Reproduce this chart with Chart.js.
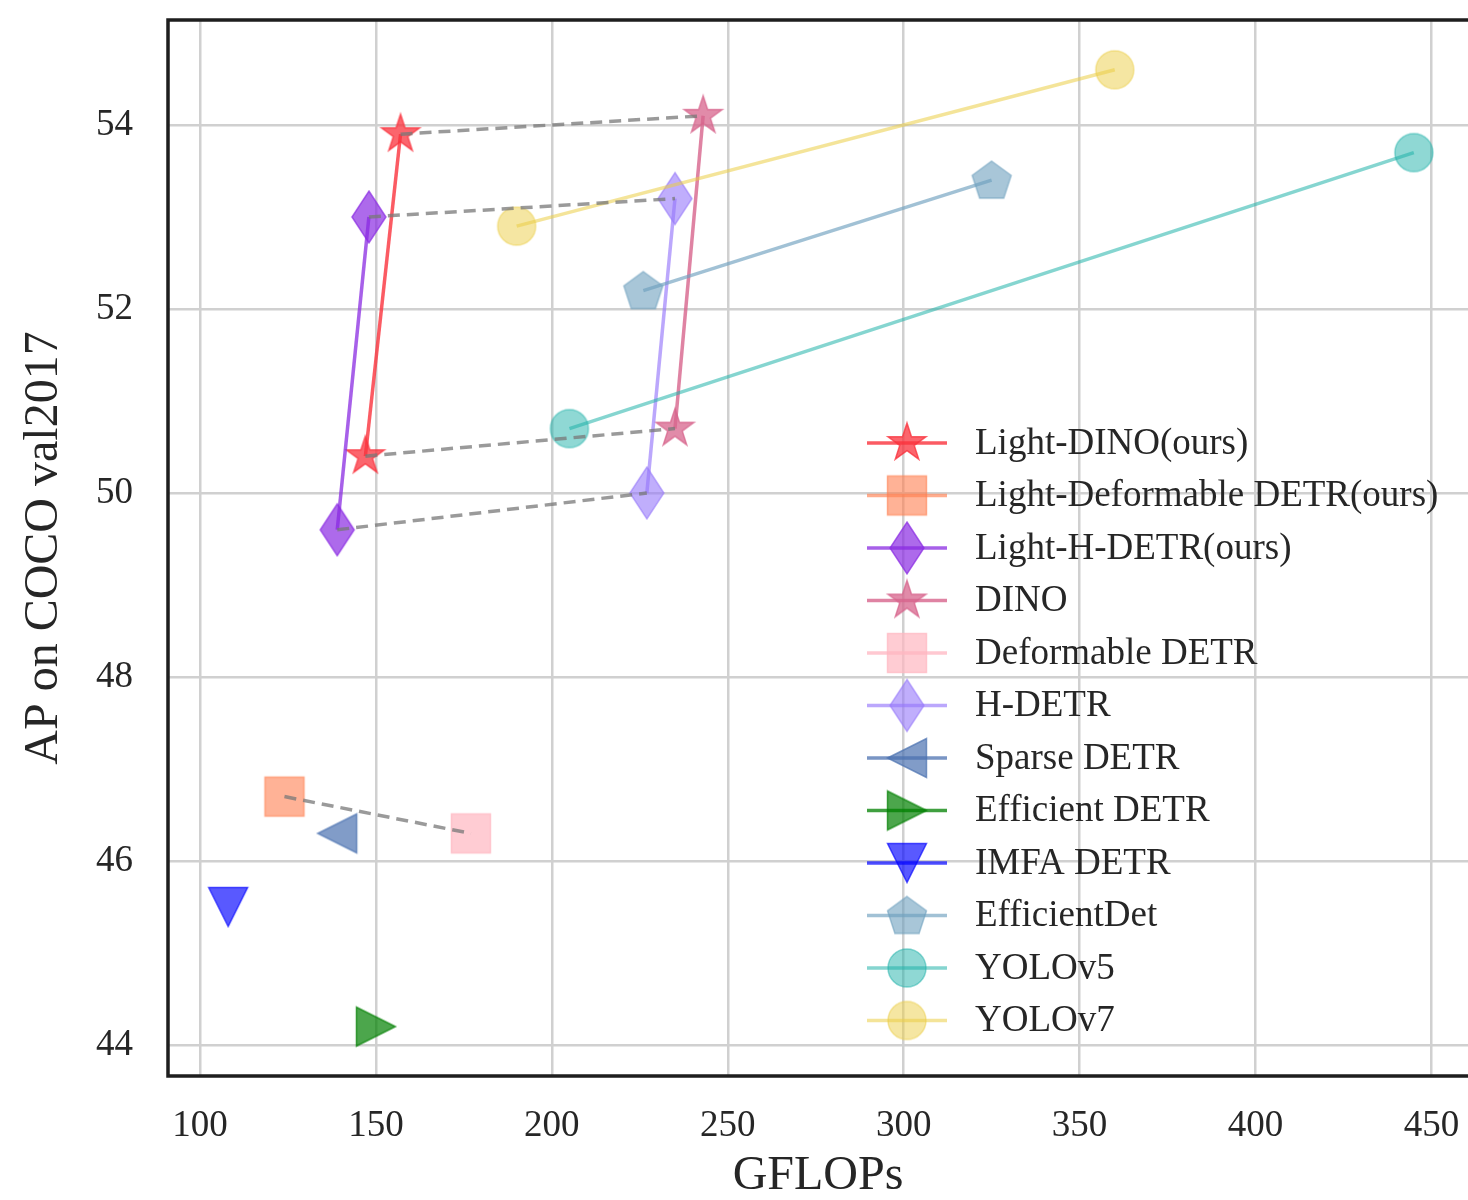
<!DOCTYPE html>
<html><head><meta charset="utf-8">
<script src="https://cdn.jsdelivr.net/npm/chart.js@4"></script>
<style>html,body{margin:0;padding:0;background:#fff}#wrap{width:1468px;height:1200px;position:relative}</style>
</head><body><div id="wrap"><canvas id="c" width="1468" height="1200"></canvas></div>
<script>
// ---- data ----
const xTicks = [100, 150, 200, 250, 300, 350, 400, 450];
const yTicks = [44, 46, 48, 50, 52, 54];
const xTitle = 'GFLOPs';
const yTitle = 'AP on COCO val2017';

const seriesNames = ['Light-DINO(ours)', 'Light-Deformable DETR(ours)', 'Light-H-DETR(ours)', 'DINO',
  'Deformable DETR', 'H-DETR', 'Sparse DETR', 'Efficient DETR', 'IMFA DETR', 'EfficientDet', 'YOLOv5', 'YOLOv7'];

const lightDinoGflops = [147, 157];
const lightDinoAP = [50.4, 53.9];
const lightDeformGflops = [124];
const lightDeformAP = [46.7];
const lightHdetrGflops = [139, 148];
const lightHdetrAP = [49.6, 53.0];
const dinoGflops = [235, 243];
const dinoAP = [50.7, 54.1];
const deformGflops = [177];
const deformAP = [46.3];
const hdetrGflops = [227, 235];
const hdetrAP = [50.0, 53.2];
const sparseGflops = [139];
const sparseAP = [46.3];
const effDetrGflops = [150];
const effDetrAP = [44.2];
const imfaGflops = [108];
const imfaAP = [45.5];
const effDetGflops = [226, 325];
const effDetAP = [52.2, 53.4];
const yolo5Gflops = [205, 445];
const yolo5AP = [50.7, 53.7];
const yolo7Gflops = [190, 360];
const yolo7AP = [52.9, 54.6];

// ---- styles ----
const FONT = "'Liberation Serif', 'DejaVu Serif', serif";
const TEXT = '#262626';

function rgba(c, a) { return 'rgba(' + c.join(',') + ',' + a + ')'; }

function marker(shape, col, alpha) {
  const S = 64, m = S / 2;
  const cv = document.createElement('canvas');
  cv.width = S; cv.height = S;
  const g = cv.getContext('2d');
  g.beginPath();
  const poly = pts => { g.moveTo(m + pts[0][0], m + pts[0][1]); for (let i = 1; i < pts.length; i++) g.lineTo(m + pts[i][0], m + pts[i][1]); g.closePath(); };
  const h = 19.5;
  if (shape === 'star') {
    const R = 20, r = R * 0.381966, pts = [];
    for (let k = 0; k < 10; k++) { const a = -Math.PI / 2 + k * Math.PI / 5, rr = k % 2 ? r : R; pts.push([rr * Math.cos(a), rr * Math.sin(a)]); }
    poly(pts);
  } else if (shape === 'square') {
    poly([[-h, -h], [h, -h], [h, h], [-h, h]]);
  } else if (shape === 'diamond') {
    poly([[0, -26], [17, 0], [0, 26], [-17, 0]]);
  } else if (shape === 'tleft') {
    poly([[-h, 0], [h, -h], [h, h]]);
  } else if (shape === 'tright') {
    poly([[h, 0], [-h, -h], [-h, h]]);
  } else if (shape === 'tdown') {
    poly([[0, h], [-h, -h], [h, -h]]);
  } else if (shape === 'pentagon') {
    const R = 20.5, pts = [];
    for (let k = 0; k < 5; k++) { const a = -Math.PI / 2 + k * 2 * Math.PI / 5; pts.push([R * Math.cos(a), R * Math.sin(a) + 1.5]); }
    poly(pts);
  } else {
    g.arc(m, m, 19, 0, Math.PI * 2);
  }
  g.fillStyle = rgba(col, alpha);
  g.fill();
  g.lineWidth = 1.5;
  g.strokeStyle = rgba(col, alpha);
  g.stroke();
  return cv;
}

const seriesX = [lightDinoGflops, lightDeformGflops, lightHdetrGflops, dinoGflops, deformGflops, hdetrGflops,
  sparseGflops, effDetrGflops, imfaGflops, effDetGflops, yolo5Gflops, yolo7Gflops];
const seriesY = [lightDinoAP, lightDeformAP, lightHdetrAP, dinoAP, deformAP, hdetrAP,
  sparseAP, effDetrAP, imfaAP, effDetAP, yolo5AP, yolo7AP];
const seriesShape = ['star', 'square', 'diamond', 'star', 'square', 'diamond', 'tleft', 'tright', 'tdown', 'pentagon', 'circle', 'circle'];
const seriesColor = [[250, 50, 60], [255, 127, 80], [138, 43, 226], [215, 100, 140], [255, 182, 193], [150, 120, 250],
  [76, 114, 176], [0, 128, 0], [0, 0, 255], [110, 160, 190], [32, 178, 170], [235, 205, 70]];
const seriesAlpha = [0.75, 0.6, 0.7, 0.75, 0.7, 0.6, 0.7, 0.7, 0.65, 0.6, 0.5, 0.5];

const markers = seriesShape.map((s, i) => marker(s, seriesColor[i], seriesAlpha[i]));

const datasets = [];
seriesNames.forEach((name, i) => {
  datasets.push({
    label: name,
    data: seriesX[i].map((x, j) => ({ x: x, y: seriesY[i][j] })),
    showLine: true,
    borderColor: rgba(seriesColor[i], Math.min(1, seriesAlpha[i] + 0.05)),
    borderWidth: 3.5,
    pointStyle: markers[i],
    pointRadius: 19,
    pointHoverRadius: 19,
    order: 100 - i
  });
});

// dashed links between light versions and originals
const links = [
  [lightDinoGflops, lightDinoAP, dinoGflops, dinoAP],
  [lightHdetrGflops, lightHdetrAP, hdetrGflops, hdetrAP],
  [lightDeformGflops, lightDeformAP, deformGflops, deformAP]
];
links.forEach(([ax, ay, bx, by]) => {
  ax.forEach((x, j) => {
    datasets.push({
      label: '_link',
      data: [{ x: x, y: ay[j] }, { x: bx[j], y: by[j] }],
      showLine: true,
      borderColor: 'rgba(120,120,120,0.75)',
      borderWidth: 3.5,
      borderDash: [12, 7],
      pointRadius: 0,
      pointHoverRadius: 0,
      order: 0
    });
  });
});

const framePlugin = {
  id: 'frame',
  beforeDatasetsDraw(chart) {
    const { ctx, chartArea: a } = chart;
    ctx.save();
    ctx.strokeStyle = '#1e1e1e';
    ctx.lineWidth = 3.5;
    ctx.beginPath();
    ctx.moveTo(a.right + 5, a.top);
    ctx.lineTo(a.left, a.top);
    ctx.lineTo(a.left, a.bottom);
    ctx.lineTo(a.right + 5, a.bottom);
    ctx.stroke();
    ctx.restore();
  },
  afterDatasetsDraw(chart) {
    const { ctx, chartArea: a } = chart;
    const x0 = a.left + 699, x1 = a.left + 779, xm = a.left + 739, xt = a.left + 807;
    const y0 = a.top + 423, step = 52.5;
    ctx.save();
    ctx.font = '37px ' + FONT;
    ctx.textBaseline = 'middle';
    ctx.textAlign = 'left';
    seriesNames.forEach((name, i) => {
      const y = y0 + i * step;
      ctx.strokeStyle = rgba(seriesColor[i], Math.min(1, seriesAlpha[i] + 0.05));
      ctx.lineWidth = 3.5;
      ctx.beginPath(); ctx.moveTo(x0, y); ctx.lineTo(x1, y); ctx.stroke();
      const mk = markers[i];
      ctx.drawImage(mk, xm - mk.width / 2, y - mk.height / 2);
      ctx.fillStyle = TEXT;
      ctx.fillText(name, xt, y + 1);
    });
    ctx.restore();
  }
};

const zeroPad = s => { s.paddingTop = 0; s.paddingBottom = 0; s.paddingLeft = 0; s.paddingRight = 0; };

new Chart(document.getElementById('c'), {
  type: 'scatter',
  data: { datasets: datasets },
  options: {
    responsive: false,
    animation: false,
    layout: { autoPadding: false, padding: { top: 20, right: 0, left: 0, bottom: 0 } },
    plugins: { legend: { display: false }, tooltip: { enabled: false } },
    scales: {
      x: {
        type: 'linear', min: 90.9, max: 460.4,
        afterBuildTicks: s => { s.ticks = xTicks.map(v => ({ value: v })); },
        afterFit: s => { s.height = 124; zeroPad(s); },
        grid: { color: '#d0d0d0', lineWidth: 2.5, drawTicks: false },
        border: { display: false },
        ticks: { color: TEXT, font: { family: FONT, size: 37 }, padding: 28, maxRotation: 0 },
        title: { display: true, text: xTitle, color: TEXT, font: { family: FONT, size: 48, lineHeight: 1 }, padding: { top: 0, bottom: 0 } }
      },
      y: {
        type: 'linear', min: 43.663, max: 55.141,
        afterBuildTicks: s => { s.ticks = yTicks.map(v => ({ value: v })); },
        afterFit: s => { s.width = 168; zeroPad(s); },
        grid: { color: '#d0d0d0', lineWidth: 2.5, drawTicks: false },
        border: { display: false },
        ticks: { color: TEXT, font: { family: FONT, size: 37 }, padding: 35 },
        title: { display: true, text: yTitle, color: TEXT, font: { family: FONT, size: 48, lineHeight: 1 }, padding: { top: 20, bottom: 0 } }
      }
    }
  },
  plugins: [framePlugin]
});
</script>
</body></html>
